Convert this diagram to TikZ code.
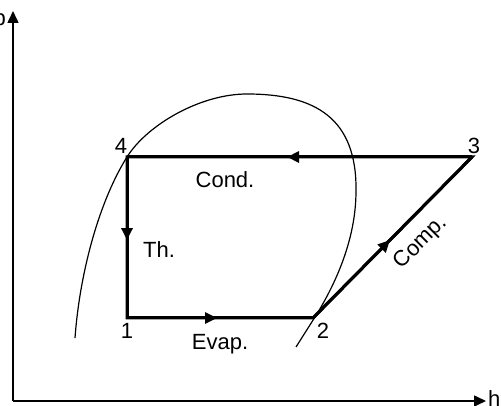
\documentclass[tikz,border=0pt]{standalone}
\usepackage{fontspec}
\setmainfont{Liberation Sans}
\usetikzlibrary{arrows.meta,decorations.markings}
\begin{document}
\begin{tikzpicture}[x=1pt,y=-1pt,
  lbl/.style={font=\fontsize{22}{26}\selectfont, inner sep=0pt},
  axis/.style={line width=1.5pt, -{Triangle[length=12pt,width=11pt]}},
  cyc/.style={line width=3pt},
  midarrow/.style={postaction={decorate},decoration={markings,
     mark=at position #1 with {\arrow{Triangle[length=12pt,width=11pt]}}}},
  dome/.style={line width=1.2pt}]
\useasboundingbox (0,0) rectangle (501,406);
% axes
\coordinate (O) at (13,401);
\coordinate (ytip) at (13,11);
\coordinate (xtip) at (486,401);
\draw[axis] (O) -- (ytip);
\draw[axis] (O) -- (xtip);
\node[lbl, anchor=base east] (p) at (6,26) {p};
\node[lbl, anchor=base west] (h) at (488,406) {h};
% dome
\draw[dome] (75,338) .. controls (80,270) and (100,200) .. (127,157)
  .. controls (147,125) and (200,94) .. (247,94)
  .. controls (315,94) and (357,118) .. (356,191)
  .. controls (356,240) and (335,285) .. (315,317)
  .. controls (305,332) .. (296,347);
% cycle
\coordinate (n1) at (127,318);
\coordinate (n2) at (313,318);
\coordinate (n3) at (472,157);
\coordinate (n4) at (127,157);
\draw[cyc, midarrow=0.536] (n3) -- (n4);
\draw[cyc, midarrow=0.516] (n4) -- (n1);
\draw[cyc, midarrow=0.484] (n1) -- (n2);
\draw[cyc, midarrow=0.484] (n2) -- (n3);
\draw[cyc, line join=miter] (n3) -- (n4) -- (n1) -- (n2) -- (n3) -- cycle;
% labels
\node[lbl, anchor=base] (l4) at (121,154) {4};
\node[lbl, anchor=base] (l3) at (474,154) {3};
\node[lbl, anchor=base] (l1) at (127,338) {1};
\node[lbl, anchor=base] (l2) at (323,338) {2};
\node[lbl, anchor=base] (cond) at (225,188) {Cond.};
\node[lbl, anchor=base west] (th) at (143,258) {Th.};
\node[lbl, anchor=base] (evap) at (220,349) {Evap.};
\node[lbl, rotate=45] (comp) at (421,243) {Comp.};
\end{tikzpicture}
\end{document}
